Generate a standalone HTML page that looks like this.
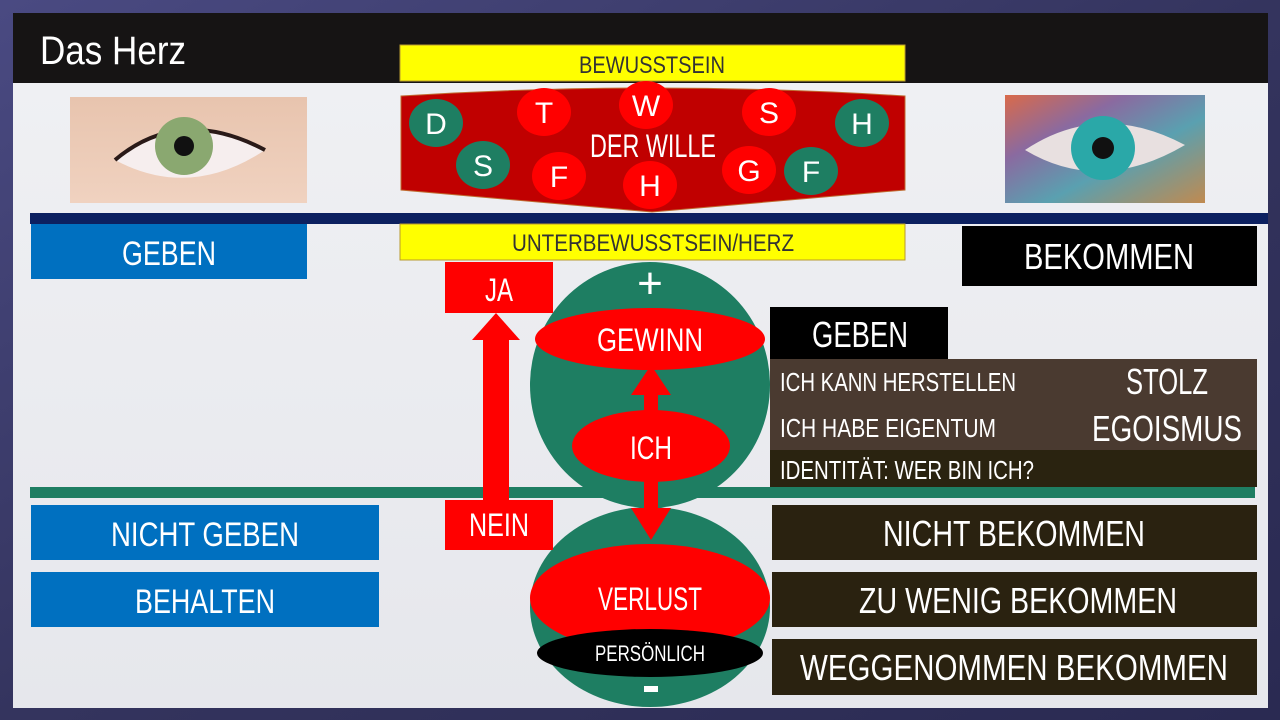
<!DOCTYPE html>
<html><head><meta charset="utf-8"><style>
html,body{margin:0;padding:0;width:1280px;height:720px;overflow:hidden;background:#3a3a6a}
svg{display:block}
text{font-family:"Liberation Sans Narrow","Liberation Sans",sans-serif}
</style></head><body>
<svg width="1280" height="720" viewBox="0 0 1280 720" xmlns="http://www.w3.org/2000/svg">
<defs>
<linearGradient id="bg" x1="0" y1="0" x2="1" y2="1"><stop offset="0" stop-color="#4a4a82"/><stop offset="0.5" stop-color="#34345e"/><stop offset="1" stop-color="#2a2a52"/></linearGradient>
<linearGradient id="panel" x1="0" y1="0" x2="0" y2="1"><stop offset="0" stop-color="#f0f1f4"/><stop offset="1" stop-color="#e6e7ec"/></linearGradient>
<linearGradient id="skin" x1="0" y1="0" x2="0" y2="1"><stop offset="0" stop-color="#e8c4ae"/><stop offset="1" stop-color="#f0d2c0"/></linearGradient>
<linearGradient id="mosaic" x1="0" y1="0" x2="1" y2="1"><stop offset="0" stop-color="#d96a4a"/><stop offset="0.3" stop-color="#8a6aa0"/><stop offset="0.6" stop-color="#5aa0b0"/><stop offset="1" stop-color="#c08a50"/></linearGradient>
</defs>
<rect width="1280" height="720" fill="url(#bg)"/>
<rect x="13" y="13" width="1255" height="695" fill="url(#panel)"/>
<rect x="13" y="13" width="1255" height="70" fill="#161414"/>
<text x="40" y="64" font-size="40" fill="#fff" textLength="146" lengthAdjust="spacingAndGlyphs">Das Herz</text>

<!-- left eye -->
<rect x="70" y="97" width="237" height="106" fill="url(#skin)"/>
<path d="M115 160 Q180 105 265 150 Q190 200 115 160Z" fill="#f6eeee"/>
<path d="M115 160 Q180 105 265 150" fill="none" stroke="#2a1a18" stroke-width="4"/>
<circle cx="184" cy="146" r="29" fill="#8aa870"/>
<circle cx="184" cy="146" r="10" fill="#111"/>
<!-- right eye -->
<rect x="1005" y="95" width="200" height="108" fill="url(#mosaic)"/>
<path d="M1025 150 Q1100 100 1185 145 Q1100 195 1025 150Z" fill="#e8e0e0"/>
<circle cx="1103" cy="148" r="32" fill="#2aa8a8"/>
<circle cx="1103" cy="148" r="11" fill="#111"/>

<rect x="30" y="213" width="1238" height="11" fill="#0c2060"/>

<rect x="400" y="45" width="505" height="36" fill="#ffff00" stroke="#b89a30"/>
<text x="652" y="73" font-size="24" fill="#333" text-anchor="middle" textLength="146" lengthAdjust="spacingAndGlyphs">BEWUSSTSEIN</text>
<path d="M401 96 Q652 80 905 96 L905 190 L652 212 L401 190Z" fill="#c00000" stroke="#c06a30" stroke-width="1"/>
<g font-size="30" fill="#fff" text-anchor="middle">
<ellipse cx="436" cy="123" rx="27" ry="24" fill="#1e7e62"/><text x="436" y="134">D</text>
<ellipse cx="483" cy="165" rx="27" ry="24" fill="#1e7e62"/><text x="483" y="176">S</text>
<ellipse cx="544" cy="112" rx="27" ry="24" fill="#ff0000"/><text x="544" y="123">T</text>
<ellipse cx="559" cy="176" rx="27" ry="24" fill="#ff0000"/><text x="559" y="187">F</text>
<ellipse cx="646" cy="105" rx="27" ry="24" fill="#ff0000"/><text x="646" y="116">W</text>
<ellipse cx="650" cy="185" rx="27" ry="24" fill="#ff0000"/><text x="650" y="196">H</text>
<ellipse cx="769" cy="112" rx="27" ry="24" fill="#ff0000"/><text x="769" y="123">S</text>
<ellipse cx="749" cy="170" rx="27" ry="24" fill="#ff0000"/><text x="749" y="181">G</text>
<ellipse cx="862" cy="123" rx="27" ry="24" fill="#1e7e62"/><text x="862" y="134">H</text>
<ellipse cx="811" cy="171" rx="27" ry="24" fill="#1e7e62"/><text x="811" y="182">F</text>
</g>
<text x="653" y="157" font-size="32" fill="#fff" text-anchor="middle" textLength="126" lengthAdjust="spacingAndGlyphs">DER WILLE</text>

<rect x="400" y="224" width="505" height="36" fill="#ffff00" stroke="#b89a30"/>
<text x="653" y="251" font-size="24" fill="#333" text-anchor="middle" textLength="282" lengthAdjust="spacingAndGlyphs">UNTERBEWUSSTSEIN/HERZ</text>

<rect x="31" y="224" width="276" height="55" fill="#0070c0"/>
<text x="169" y="265" font-size="34" fill="#fff" text-anchor="middle" textLength="94" lengthAdjust="spacingAndGlyphs">GEBEN</text>
<rect x="31" y="505" width="348" height="55" fill="#0070c0"/>
<text x="205" y="546" font-size="34" fill="#fff" text-anchor="middle" textLength="188" lengthAdjust="spacingAndGlyphs">NICHT GEBEN</text>
<rect x="31" y="572" width="348" height="55" fill="#0070c0"/>
<text x="205" y="613" font-size="34" fill="#fff" text-anchor="middle" textLength="140" lengthAdjust="spacingAndGlyphs">BEHALTEN</text>

<rect x="962" y="226" width="295" height="60" fill="#000"/>
<text x="1109" y="269" font-size="36" fill="#fff" text-anchor="middle" textLength="170" lengthAdjust="spacingAndGlyphs">BEKOMMEN</text>

<rect x="30" y="487" width="1225" height="11" fill="#1e7e62"/>

<ellipse cx="650" cy="385" rx="120" ry="123" fill="#1e7e62"/>
<ellipse cx="650" cy="607" rx="120" ry="100" fill="#1e7e62"/>
<text x="650" y="298" font-size="44" fill="#fff" text-anchor="middle">+</text>
<ellipse cx="650" cy="339" rx="115" ry="31" fill="#ff0000"/>
<text x="650" y="351" font-size="32" fill="#fff" text-anchor="middle" textLength="106" lengthAdjust="spacingAndGlyphs">GEWINN</text>
<ellipse cx="651" cy="446" rx="79" ry="36" fill="#ff0000"/>
<text x="651" y="459" font-size="32" fill="#fff" text-anchor="middle" textLength="42" lengthAdjust="spacingAndGlyphs">ICH</text>
<rect x="644" y="390" width="14" height="25" fill="#ff0000"/>
<polygon points="651,365 631,395 671,395" fill="#ff0000"/>
<rect x="644" y="480" width="14" height="30" fill="#ff0000"/>
<polygon points="651,540 631,508 671,508" fill="#ff0000"/>
<ellipse cx="650" cy="598" rx="120" ry="54" fill="#ff0000"/>
<text x="650" y="610" font-size="32" fill="#fff" text-anchor="middle" textLength="104" lengthAdjust="spacingAndGlyphs">VERLUST</text>
<ellipse cx="650" cy="653" rx="113" ry="24" fill="#000"/>
<text x="650" y="661" font-size="22" fill="#fff" text-anchor="middle" textLength="110" lengthAdjust="spacingAndGlyphs">PERSÖNLICH</text>
<rect x="644" y="686" width="14" height="6" fill="#fff"/>

<rect x="445" y="262" width="108" height="51" fill="#ff0000"/>
<text x="499" y="301" font-size="32" fill="#fff" text-anchor="middle" textLength="28" lengthAdjust="spacingAndGlyphs">JA</text>
<rect x="483" y="338" width="26" height="165" fill="#ff0000"/>
<polygon points="496,313 472,340 520,340" fill="#ff0000"/>
<rect x="445" y="500" width="108" height="50" fill="#ff0000"/>
<text x="499" y="536" font-size="32" fill="#fff" text-anchor="middle" textLength="60" lengthAdjust="spacingAndGlyphs">NEIN</text>

<rect x="770" y="307" width="178" height="52" fill="#000"/>
<text x="860" y="347" font-size="36" fill="#fff" text-anchor="middle" textLength="96" lengthAdjust="spacingAndGlyphs">GEBEN</text>
<rect x="770" y="359" width="487" height="91" fill="#4a3a30"/>
<text x="780" y="391" font-size="26" fill="#fff" textLength="236" lengthAdjust="spacingAndGlyphs">ICH KANN HERSTELLEN</text>
<text x="780" y="437" font-size="26" fill="#fff" textLength="216" lengthAdjust="spacingAndGlyphs">ICH HABE EIGENTUM</text>
<text x="1167" y="394" font-size="36" fill="#fff" text-anchor="middle" textLength="82" lengthAdjust="spacingAndGlyphs">STOLZ</text>
<text x="1167" y="441" font-size="36" fill="#fff" text-anchor="middle" textLength="150" lengthAdjust="spacingAndGlyphs">EGOISMUS</text>
<rect x="770" y="450" width="487" height="37" fill="#2a2310"/>
<text x="780" y="479" font-size="26" fill="#fff" textLength="254" lengthAdjust="spacingAndGlyphs">IDENTITÄT: WER BIN ICH?</text>

<rect x="772" y="505" width="485" height="55" fill="#2a2210"/>
<text x="1014" y="546" font-size="36" fill="#fff" text-anchor="middle" textLength="262" lengthAdjust="spacingAndGlyphs">NICHT BEKOMMEN</text>
<rect x="772" y="572" width="485" height="55" fill="#2a2210"/>
<text x="1018" y="613" font-size="36" fill="#fff" text-anchor="middle" textLength="318" lengthAdjust="spacingAndGlyphs">ZU WENIG BEKOMMEN</text>
<rect x="772" y="639" width="485" height="56" fill="#2a2210"/>
<text x="1014" y="680" font-size="36" fill="#fff" text-anchor="middle" textLength="428" lengthAdjust="spacingAndGlyphs">WEGGENOMMEN BEKOMMEN</text>
</svg>
</body></html>
